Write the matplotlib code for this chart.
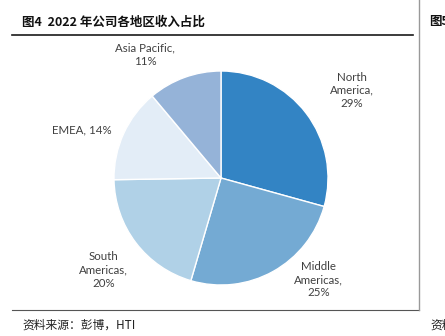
import matplotlib
matplotlib.use("Agg")
import matplotlib.pyplot as plt
from matplotlib.lines import Line2D

plt.rcParams['font.family'] = ['Lato', 'Noto Sans CJK SC', 'DejaVu Sans']

# data
regions = ['North\nAmerica,', 'Middle\nAmericas,', 'South\nAmericas,', 'EMEA,', 'Asia Pacific,']
shares = [29, 25, 20, 14, 11]
colors = ['#3384C4', '#74AAD3', '#B0D1E7', '#E3EDF7', '#95B3D8']

# label placement (data coords, pie radius = 1)
label_xy = [(1.22, 0.82), (0.91, -0.95), (-1.10, -0.86), (-1.30, 0.45), (-0.71, 1.15)]

W, H = 445, 336
fig = plt.figure(figsize=(W / 100, H / 100), dpi=100)

cx, cy, r = 221, 178, 107
ax = fig.add_axes([(cx - r) / W, (H - cy - r) / H, 2 * r / W, 2 * r / H])
wedges, _ = ax.pie(shares, colors=colors, startangle=90, counterclock=False,
                   wedgeprops=dict(edgecolor='white', linewidth=1.0))
ax.set_xlim(-1, 1)
ax.set_ylim(-1, 1)
ax.set_aspect('equal')
ax.axis('off')

for name, val, (x, y) in zip(regions, shares, label_xy):
    if name == 'EMEA,':
        txt = f'{name} {val}%'
    else:
        txt = f'{name}\n{val}%'
    ax.text(x, y, txt, ha='center', va='center', fontsize=8.3, color='#404040',
            linespacing=1.25, clip_on=False)

# frame lines
fig.add_artist(Line2D([12 / W, 413 / W], [1 - 35 / H, 1 - 35 / H], color='#1a1a1a', lw=1.2))
fig.add_artist(Line2D([12 / W, 419 / W], [1 - 310 / H, 1 - 310 / H], color='#555555', lw=0.8))
fig.add_artist(Line2D([419 / W, 419 / W], [1 - 0 / H, 1 - 310 / H], color='#999999', lw=1.0))

cjk = ['Noto Sans CJK SC', 'DejaVu Sans']
fig.text(22 / W, 1 - 22 / H, '图4  2022 年公司各地区收入占比', fontsize=9.0, fontweight='bold',
         ha='left', va='center', color='#111111', family=cjk)
fig.text(429 / W, 1 - 22 / H, '图5', fontsize=9.0, fontweight='bold', ha='left', va='center',
         color='#111111', family=cjk)
fig.text(22 / W, 1 - 325 / H, '资料来源：彭博，HTI', fontsize=8.5, ha='left', va='center',
         color='#222222', family=cjk)
fig.text(430 / W, 1 - 325 / H, '资料', fontsize=8.5, ha='left', va='center',
         color='#222222', family=cjk)

fig.savefig('out.png', dpi=100)
